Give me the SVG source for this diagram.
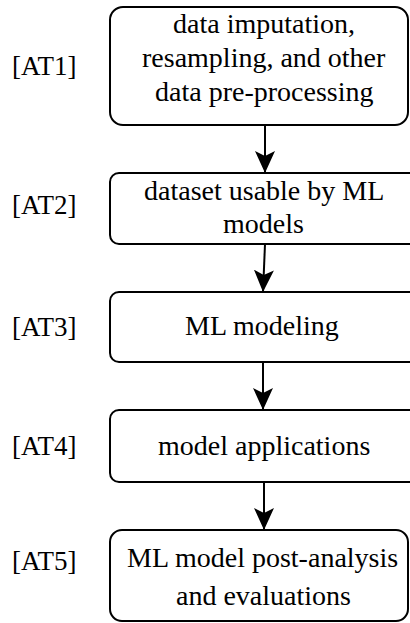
<svg xmlns="http://www.w3.org/2000/svg" width="410" height="623" viewBox="0 0 410 623">
  <defs>
    <marker id="arrow" viewBox="0 0 22 20" refX="22" refY="10" markerWidth="22" markerHeight="20" markerUnits="userSpaceOnUse" orient="auto">
      <path d="M0,0 L22,10 L0,20 L5,10 Z" fill="#000000"/>
    </marker>
  </defs>
  <rect width="410" height="623" fill="#ffffff"/>

  <!-- step labels (left-aligned, start x from glyph widths) -->
  <g id="tags">
    <text x="12" y="75" font-family="Liberation Serif" font-size="27">[AT1]</text>
    <text x="12" y="214" font-family="Liberation Serif" font-size="27">[AT2]</text>
    <text x="12" y="336" font-family="Liberation Serif" font-size="27">[AT3]</text>
    <text x="12" y="455" font-family="Liberation Serif" font-size="27">[AT4]</text>
    <text x="12" y="570" font-family="Liberation Serif" font-size="27">[AT5]</text>
  </g>

  <!-- pipeline connectors -->
  <g id="connectors" fill="none" stroke="#000000" stroke-width="2">
    <line x1="265" y1="125" x2="265" y2="173" marker-end="url(#arrow)"/>
    <line x1="265" y1="244" x2="263" y2="292" marker-end="url(#arrow)"/>
    <line x1="263" y1="362" x2="263" y2="410" marker-end="url(#arrow)"/>
    <line x1="264" y1="482" x2="264" y2="530" marker-end="url(#arrow)"/>
  </g>

  <g id="at1">
    <rect x="110" y="7" width="298" height="118" rx="13" ry="13" fill="#ffffff" stroke="#000000" stroke-width="2"/>
    <text x="173" y="33" font-family="Liberation Serif" font-size="28">data imputation,</text>
    <text x="142" y="67" font-family="Liberation Serif" font-size="28">resampling, and other</text>
    <text x="155" y="101" font-family="Liberation Serif" font-size="28">data pre-processing</text>
  </g>

  <g id="at2">
    <rect x="110" y="173" width="310" height="71" rx="9" ry="9" fill="#ffffff" stroke="#000000" stroke-width="2"/>
    <text x="144" y="200" font-family="Liberation Serif" font-size="28">dataset usable by ML</text>
    <text x="223" y="233" font-family="Liberation Serif" font-size="28">models</text>
  </g>

  <g id="at3">
    <rect x="110" y="292" width="310" height="70" rx="9" ry="9" fill="#ffffff" stroke="#000000" stroke-width="2"/>
    <text x="185" y="335" font-family="Liberation Serif" font-size="28">ML modeling</text>
  </g>

  <g id="at4">
    <rect x="110" y="410" width="310" height="72" rx="9" ry="9" fill="#ffffff" stroke="#000000" stroke-width="2"/>
    <text x="158" y="455" font-family="Liberation Serif" font-size="28">model applications</text>
  </g>

  <g id="at5">
    <rect x="110" y="530" width="298" height="91" rx="12" ry="12" fill="#ffffff" stroke="#000000" stroke-width="2"/>
    <text x="127" y="567" font-family="Liberation Serif" font-size="28">ML model post-analysis</text>
    <text x="176" y="605" font-family="Liberation Serif" font-size="28">and evaluations</text>
  </g>
</svg>
